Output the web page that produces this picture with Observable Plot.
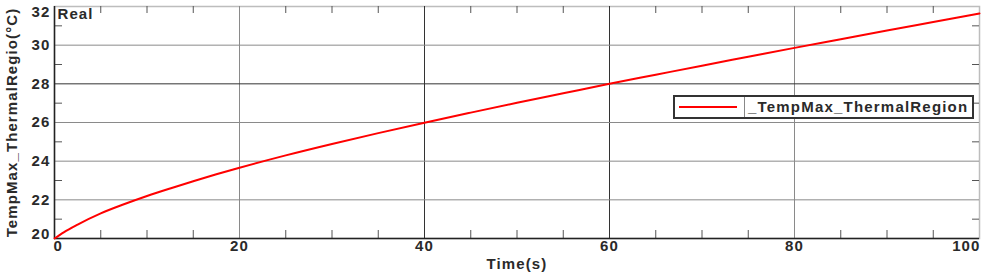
<!DOCTYPE html>
<html>
<head>
<meta charset="utf-8">
<script src="https://cdn.jsdelivr.net/npm/d3@7"></script>
<script src="https://cdn.jsdelivr.net/npm/@observablehq/plot@0.6"></script>
<style>
  html, body { margin: 0; padding: 0; background: #fff; }
  #chart { position: relative; width: 982px; height: 275px; }
  #legend {
    position: absolute; left: 673px; top: 95px; width: 301px; height: 24px;
    box-sizing: border-box; border: 2px solid #333; background: #fff;
    font-family: "Liberation Sans", Arial, sans-serif; font-weight: bold;
    font-size: 15px; letter-spacing: 1.2px; color: #2a2a2a;
  }
  #legend .sw { position: absolute; left: 4px; top: 9px; width: 58px; height: 2px; background: #ff0000; }
  #legend .dv { position: absolute; left: 69px; top: 0; width: 1px; height: 20px; background: #888; }
  #legend .tx { position: absolute; left: 73px; top: 1px; line-height: 18px; white-space: nowrap; }
</style>
</head>
<body>
<div id="chart"></div>
<script>
// ---- data ----
const timeS = [0, 1, 2.5, 5, 7.5, 10, 12.5, 15, 17.5, 20, 25, 30, 35, 40, 45, 50, 55, 60, 65, 70, 75, 80, 85, 90, 95, 100];
const tempMax = [20.0, 20.32, 20.72, 21.3, 21.77, 22.2, 22.59, 22.96, 23.32, 23.66, 24.3, 24.89, 25.45, 25.99, 26.51, 27.02, 27.51, 28.0, 28.47, 28.94, 29.4, 29.86, 30.31, 30.76, 31.2, 31.64];
const seriesName = "_TempMax_ThermalRegion";
const xTickLabels = [0, 20, 40, 60, 80, 100];
const yTickLabels = [20, 22, 24, 26, 28, 30, 32];
const xMinor = [5, 10, 15, 25, 30, 35, 45, 50, 55, 65, 70, 75, 85, 90, 95];
const yMinor = [21, 23, 25, 27, 29, 31];
const xGridDark = [40, 60];
const xGridLight = [20, 80];
const yGridDark = [28];
const yGridLight = [22, 24, 26, 30];
const xLabel = "Time(s)";
const yLabel = "TempMax_ThermalRegio(°C)";
const cornerLabel = "Real";

const data = timeS.map((t, i) => ({t, v: tempMax[i]}));

const W = 982, H = 275, mL = 54, mR = 3, mT = 6, mB = 37;
const pw = W - mL - mR, ph = H - mT - mB;
const txt = "#2a2a2a";

const firstX = xTickLabels[0], lastX = xTickLabels[xTickLabels.length - 1];
const firstY = yTickLabels[0], lastY = yTickLabels[yTickLabels.length - 1];

const chart = Plot.plot({
  width: W, height: H,
  marginLeft: mL, marginRight: mR, marginTop: mT, marginBottom: mB,
  style: "font-family:'Liberation Sans',Arial,sans-serif;font-weight:bold;letter-spacing:1.1px;background:#fff;overflow:visible;",
  x: {domain: [firstX, lastX], axis: null},
  y: {domain: [firstY, lastY], axis: null},
  marks: [
    Plot.frame({stroke: "#bdbdbd", strokeWidth: 1.5}),
    Plot.ruleX(xGridLight, {stroke: "#8a8a8a", strokeWidth: 1}),
    Plot.ruleX(xGridDark, {stroke: "#333", strokeWidth: 1}),
    Plot.ruleY(yGridLight, {stroke: "#8a8a8a", strokeWidth: 1}),
    Plot.ruleY(yGridDark, {stroke: "#333", strokeWidth: 1}),
    // inward minor ticks
    Plot.ruleX(xMinor, {stroke: "#555", insetTop: ph - 8}),
    Plot.ruleX(xMinor, {stroke: "#555", insetBottom: ph - 7}),
    Plot.ruleY(yMinor, {stroke: "#555", insetRight: pw - 8}),
    Plot.ruleY(yMinor, {stroke: "#555", insetLeft: pw - 7}),
    // dark left/bottom axes
    Plot.ruleX([firstX], {stroke: "#222", strokeWidth: 1.5}),
    Plot.ruleY([firstY], {stroke: "#222", strokeWidth: 1.5}),
    // series
    Plot.line(data, {x: "t", y: "v", stroke: "#ff0000", strokeWidth: 2, curve: "monotone-x"}),
    // x tick labels
    Plot.text([firstX], {x: d => d, frameAnchor: "bottom", dy: 12, textAnchor: "start", dx: -1, fontSize: 15, fill: txt, text: d => String(d)}),
    Plot.text(xTickLabels.slice(1, -1), {x: d => d, frameAnchor: "bottom", dy: 12, textAnchor: "middle", fontSize: 15, fill: txt, text: d => String(d)}),
    Plot.text([lastX], {x: d => d, frameAnchor: "bottom", dy: 12, textAnchor: "end", dx: 1, fontSize: 15, fill: txt, text: d => String(d)}),
    // y tick labels
    Plot.text([lastY], {y: d => d, frameAnchor: "left", dx: -4, textAnchor: "end", lineAnchor: "top", fontSize: 15, fill: txt, text: d => String(d)}),
    Plot.text(yTickLabels.slice(1, -1), {y: d => d, frameAnchor: "left", dx: -4, textAnchor: "end", fontSize: 15, fill: txt, text: d => String(d)}),
    Plot.text([firstY], {y: d => d, frameAnchor: "left", dx: -4, textAnchor: "end", lineAnchor: "bottom", fontSize: 15, fill: txt, text: d => String(d)}),
    // axis labels
    Plot.text([xLabel], {frameAnchor: "bottom", dy: 30, textAnchor: "middle", fontSize: 15, fill: txt}),
    Plot.text([yLabel], {frameAnchor: "left", dx: -42, rotate: -90, textAnchor: "middle", lineAnchor: "middle", fontSize: 15, fill: txt}),
    Plot.text([cornerLabel], {frameAnchor: "top-left", dx: 3, dy: 2, textAnchor: "start", lineAnchor: "top", fontSize: 15, fill: txt})
  ]
});

const root = document.getElementById("chart");
root.appendChild(chart);
const lg = document.createElement("div");
lg.id = "legend";
lg.innerHTML = '<div class="sw"></div><div class="dv"></div><div class="tx"></div>';
lg.querySelector(".tx").textContent = seriesName;
root.appendChild(lg);
</script>
</body>
</html>
